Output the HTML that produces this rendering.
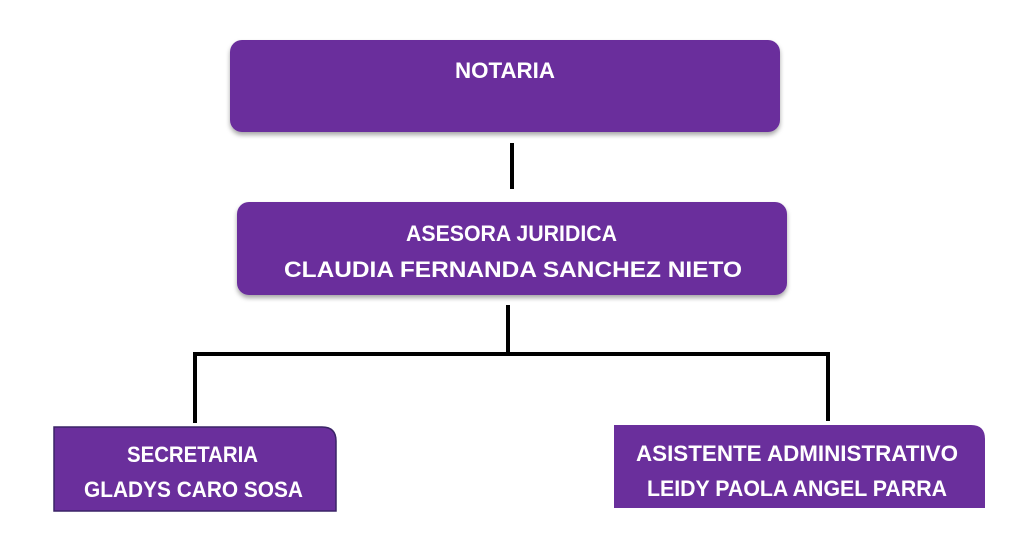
<!DOCTYPE html>
<html><head><meta charset="utf-8"><style>
html,body{margin:0;padding:0;background:#fff;width:1021px;height:547px;overflow:hidden}
text{font-family:"Liberation Sans",sans-serif;font-weight:bold;fill:#fff;font-size:22px}
</style></head><body>
<svg width="1021" height="547" viewBox="0 0 1021 547" xmlns="http://www.w3.org/2000/svg">
<defs>
<filter id="sh" x="-5%" y="-20%" width="110%" height="150%">
<feDropShadow dx="0" dy="3" stdDeviation="2.5" flood-color="#000" flood-opacity="0.35"/>
</filter>
</defs>
<rect x="230" y="40" width="550" height="92" rx="12" fill="#6a2f9c" filter="url(#sh)"/>
<rect x="237" y="202" width="550" height="93" rx="12" fill="#6a2f9c" filter="url(#sh)"/>
<path d="M54 427 H322 Q336 427 336 441 V511 H54 Z" fill="#6a2f9c" stroke="#3a2466" stroke-width="1.5"/>
<path d="M614 425 H971 Q985 425 985 439 V508 H614 Z" fill="#6a2f9c"/>
<g stroke="#000" stroke-width="4" fill="none">
<line x1="512" y1="143" x2="512" y2="189"/>
<line x1="508" y1="305" x2="508" y2="354"/>
<polyline points="195,423 195,354 828,354 828,421"/>
</g>
<text x="455" y="78" textLength="100" lengthAdjust="spacingAndGlyphs">NOTARIA</text>
<text x="406" y="241" textLength="211" lengthAdjust="spacingAndGlyphs">ASESORA JURIDICA</text>
<text x="284" y="277" textLength="458" lengthAdjust="spacingAndGlyphs">CLAUDIA FERNANDA SANCHEZ NIETO</text>
<text x="127" y="462" textLength="131" lengthAdjust="spacingAndGlyphs">SECRETARIA</text>
<text x="84" y="497" textLength="219" lengthAdjust="spacingAndGlyphs">GLADYS CARO SOSA</text>
<text x="636" y="461" textLength="322" lengthAdjust="spacingAndGlyphs">ASISTENTE ADMINISTRATIVO</text>
<text x="647" y="496" textLength="300" lengthAdjust="spacingAndGlyphs">LEIDY PAOLA ANGEL PARRA</text>
</svg>
</body></html>
